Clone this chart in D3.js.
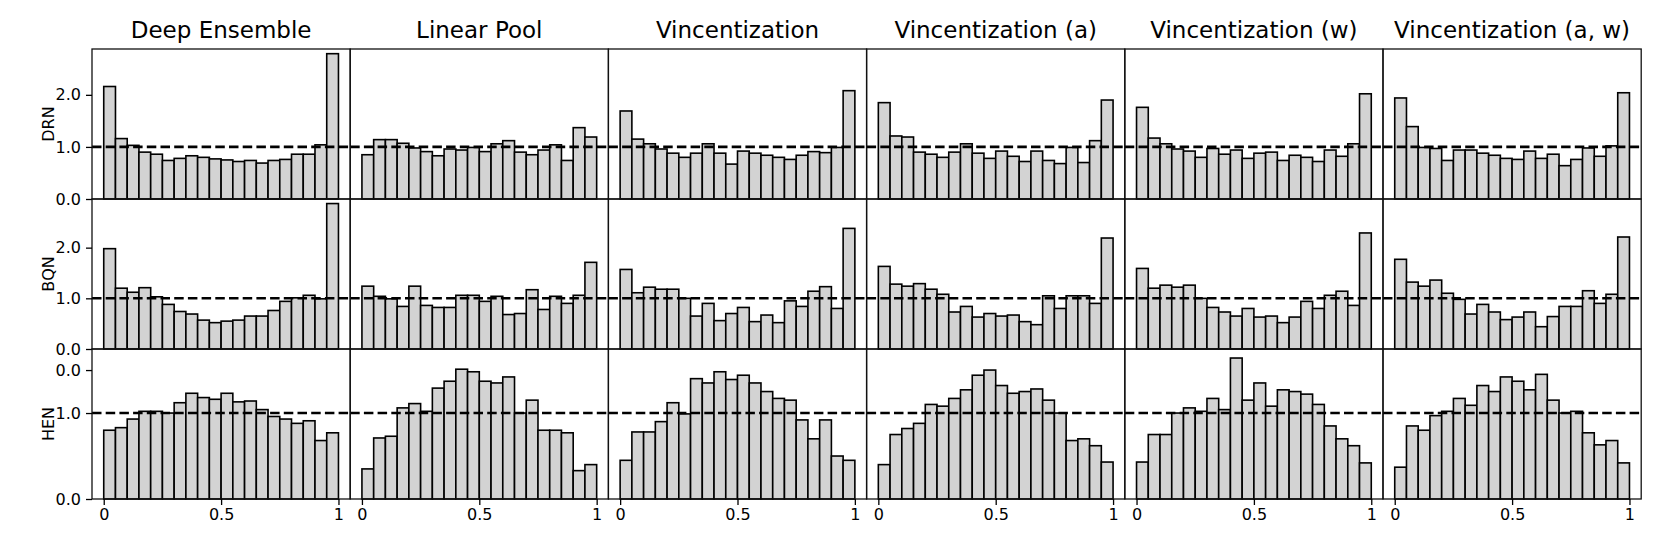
<!DOCTYPE html>
<html>
<head>
<meta charset="utf-8">
<script src="https://cdn.jsdelivr.net/npm/d3@7"></script>
<style>
  body { margin: 0; background: #fff; }
  text { font-family: "DejaVu Sans", sans-serif; fill: #000; }
</style>
</head>
<body>
<script>
// ---------- data ----------
const methods = ["Deep Ensemble", "Linear Pool", "Vincentization", "Vincentization (a)", "Vincentization (w)", "Vincentization (a, w)"];
const models = ["DRN", "BQN", "HEN"];
const binStarts = d3.range(20).map(i => i / 20);
const binWidth = 0.05;

const drnValues = [
  [2.16, 1.16, 1.03, 0.90, 0.86, 0.74, 0.78, 0.83, 0.80, 0.77, 0.75, 0.72, 0.74, 0.69, 0.74, 0.76, 0.86, 0.86, 1.04, 2.79],
  [0.85, 1.14, 1.14, 1.07, 0.98, 0.91, 0.83, 0.96, 0.94, 0.99, 0.91, 1.06, 1.12, 0.90, 0.85, 0.94, 1.04, 0.74, 1.37, 1.19],
  [1.69, 1.15, 1.06, 0.96, 0.88, 0.80, 0.88, 1.06, 0.88, 0.67, 0.92, 0.88, 0.84, 0.80, 0.76, 0.84, 0.91, 0.89, 0.99, 2.08],
  [1.85, 1.21, 1.19, 0.90, 0.86, 0.80, 0.90, 1.06, 0.88, 0.78, 0.92, 0.82, 0.72, 0.92, 0.74, 0.68, 0.99, 0.70, 1.12, 1.90],
  [1.76, 1.17, 1.06, 0.96, 0.92, 0.80, 0.97, 0.86, 0.94, 0.78, 0.88, 0.90, 0.74, 0.84, 0.80, 0.72, 0.94, 0.82, 1.06, 2.02],
  [1.94, 1.39, 0.99, 0.97, 0.74, 0.94, 0.94, 0.88, 0.84, 0.78, 0.76, 0.92, 0.78, 0.86, 0.64, 0.76, 0.98, 0.82, 1.02, 2.04]
];
const bqnValues = [
  [1.98, 1.20, 1.12, 1.21, 1.03, 0.88, 0.74, 0.69, 0.57, 0.52, 0.55, 0.57, 0.65, 0.65, 0.76, 0.94, 1.01, 1.06, 0.99, 2.87],
  [1.24, 1.04, 0.99, 0.84, 1.24, 0.86, 0.82, 0.82, 1.06, 1.06, 0.94, 1.04, 0.68, 0.70, 1.17, 0.78, 1.04, 0.90, 1.06, 1.71],
  [1.57, 1.11, 1.22, 1.18, 1.18, 1.00, 0.65, 0.90, 0.56, 0.70, 0.82, 0.54, 0.67, 0.52, 0.95, 0.84, 1.14, 1.23, 0.80, 2.38],
  [1.63, 1.28, 1.24, 1.29, 1.18, 1.08, 0.73, 0.84, 0.63, 0.70, 0.65, 0.67, 0.54, 0.48, 1.05, 0.80, 1.05, 1.05, 0.90, 2.19],
  [1.59, 1.20, 1.26, 1.22, 1.26, 1.00, 0.82, 0.73, 0.65, 0.80, 0.63, 0.65, 0.52, 0.63, 0.94, 0.80, 1.06, 1.14, 0.86, 2.29],
  [1.77, 1.32, 1.24, 1.36, 1.10, 0.98, 0.69, 0.88, 0.73, 0.58, 0.63, 0.73, 0.44, 0.64, 0.84, 0.84, 1.15, 0.90, 1.08, 2.21]
];
const henValues = [
  [0.80, 0.83, 0.93, 1.02, 1.02, 1.00, 1.12, 1.23, 1.18, 1.16, 1.23, 1.13, 1.14, 1.04, 0.96, 0.93, 0.88, 0.91, 0.68, 0.77],
  [0.35, 0.71, 0.73, 1.06, 1.11, 1.02, 1.29, 1.37, 1.51, 1.48, 1.37, 1.35, 1.42, 1.00, 1.15, 0.80, 0.80, 0.77, 0.33, 0.40],
  [0.45, 0.78, 0.78, 0.90, 1.12, 0.99, 1.40, 1.35, 1.48, 1.39, 1.44, 1.35, 1.25, 1.17, 1.15, 0.92, 0.70, 0.92, 0.50, 0.45],
  [0.40, 0.75, 0.82, 0.88, 1.10, 1.08, 1.17, 1.27, 1.44, 1.50, 1.32, 1.23, 1.25, 1.28, 1.15, 1.00, 0.68, 0.70, 0.62, 0.43],
  [0.43, 0.75, 0.75, 1.00, 1.06, 1.02, 1.17, 1.04, 1.64, 1.15, 1.35, 1.08, 1.27, 1.25, 1.22, 1.10, 0.85, 0.70, 0.62, 0.42],
  [0.37, 0.85, 0.80, 0.97, 1.02, 1.17, 1.09, 1.32, 1.25, 1.42, 1.37, 1.27, 1.45, 1.15, 1.00, 1.02, 0.77, 0.63, 0.68, 0.42]
];
const rowValues = [drnValues, bqnValues, henValues];

const xTicks = [0, 0.5, 1];
const xTickLabels = ["0", "0.5", "1"];
const yTicks = [[0, 1, 2], [0, 1, 2], [0, 1, 1.5]];
const yTickLabels = [["0.0", "1.0", "2.0"], ["0.0", "1.0", "2.0"], ["0.0", "1.0", "0.0"]];
const yMax = [2.88, 2.96, 1.745];
const refLevel = 1.0;

// ---------- layout ----------
const W = 1661, H = 554;
const marginLeft = 92, marginTop = 49, panelW = 258.2, panelH = 150;

const svg = d3.select("body").append("svg").attr("width", W).attr("height", H);

const x = d3.scaleLinear().domain([-0.05, 1.05]).range([0, panelW]);

rowValues.forEach((panels, r) => {
  const y = d3.scaleLinear().domain([0, yMax[r]]).range([panelH, 0]);
  panels.forEach((vals, c) => {
    const g = svg.append("g").attr("transform", `translate(${marginLeft + c * panelW},${marginTop + r * panelH})`);
    g.selectAll("rect.bar").data(vals).join("rect")
      .attr("class", "bar")
      .attr("x", (d, i) => x(binStarts[i]))
      .attr("width", x(binWidth) - x(0))
      .attr("y", d => y(d))
      .attr("height", d => y(0) - y(d))
      .attr("fill", "#d3d3d3")
      .attr("stroke", "#000")
      .attr("stroke-width", 1.6);
    g.append("line")
      .attr("x1", 0).attr("x2", panelW)
      .attr("y1", y(refLevel)).attr("y2", y(refLevel))
      .attr("stroke", "#000").attr("stroke-width", 2.6)
      .attr("stroke-dasharray", "9.5,4.2");
    g.append("rect")
      .attr("width", panelW).attr("height", panelH)
      .attr("fill", "none").attr("stroke", "#111").attr("stroke-width", 1.3);

    if (r === 0) {
      g.append("text").attr("x", panelW / 2).attr("y", -11)
        .attr("text-anchor", "middle").style("font-size", "23px").text(methods[c]);
    }
    if (c === 0) {
      const ax = g.append("g").call(d3.axisLeft(y).tickValues(yTicks[r])
        .tickFormat((d, i) => yTickLabels[r][i]).tickSize(6).tickPadding(5));
      ax.select(".domain").remove();
      ax.selectAll("line").attr("stroke", "#000").attr("stroke-width", 1.3);
      ax.selectAll("text").style("font-size", "16px").style("font-family", "DejaVu Sans");
      g.append("text")
        .attr("transform", `translate(-38,${panelH / 2}) rotate(-90)`)
        .attr("text-anchor", "middle").style("font-size", "16px").text(models[r]);
    }
    if (r === 2) {
      const ax = g.append("g").attr("transform", `translate(0,${panelH})`)
        .call(d3.axisBottom(x).tickValues(xTicks)
          .tickFormat((d, i) => xTickLabels[i]).tickSize(6).tickPadding(4));
      ax.select(".domain").remove();
      ax.selectAll("line").attr("stroke", "#000").attr("stroke-width", 1.3);
      ax.selectAll("text").style("font-size", "16px").style("font-family", "DejaVu Sans");
    }
  });
});
</script>
</body>
</html>
